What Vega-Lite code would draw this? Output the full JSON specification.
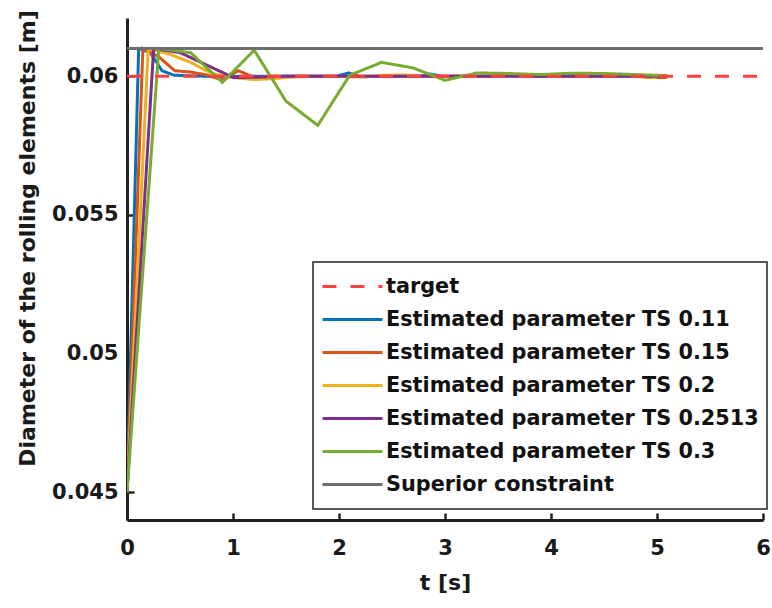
{
  "$schema": "https://vega.github.io/schema/vega-lite/v6.json",
  "width": 636,
  "height": 502,
  "autosize": {"type": "none"},
  "padding": {"left": 127, "top": 18, "right": 9, "bottom": 88},
  "background": "white",
  "config": {
    "view": {"stroke": null},
    "axis": {
      "grid": false,
      "labelFlush": false,
      "domainColor": "#222222",
      "domainWidth": 3,
      "tickColor": "#222222",
      "tickWidth": 2.5,
      "tickSize": -7,
      "labelFont": "DejaVu Sans",
      "labelFontWeight": "bold",
      "labelFontSize": 21,
      "labelColor": "#1a1a1a",
      "titleFont": "DejaVu Sans",
      "titleFontWeight": "bold",
      "titleFontSize": 22,
      "titleColor": "#1a1a1a"
    },
    "legend": {
      "orient": "none",
      "legendX": 186,
      "legendY": 244,
      "fillColor": "white",
      "strokeColor": "#222222",
      "strokeWidth": 1.5,
      "padding": 8,
      "symbolType": "stroke",
      "symbolSize": 3600,
      "symbolStrokeWidth": 3,
      "labelFont": "DejaVu Sans",
      "labelFontWeight": "bold",
      "labelFontSize": 20.8,
      "labelColor": "#111111",
      "labelLimit": 0,
      "labelOffset": 2,
      "clipHeight": 33,
      "rowPadding": 0
    }
  },
  "datasets": {
    "series": [
      {"s": "Estimated parameter TS 0.11", "t": 0, "d": 0.045},
      {"s": "Estimated parameter TS 0.11", "t": 0.11, "d": 0.0610},
      {"s": "Estimated parameter TS 0.11", "t": 0.22, "d": 0.06085},
      {"s": "Estimated parameter TS 0.11", "t": 0.33, "d": 0.0602},
      {"s": "Estimated parameter TS 0.11", "t": 0.44, "d": 0.06004},
      {"s": "Estimated parameter TS 0.11", "t": 0.55, "d": 0.06002},
      {"s": "Estimated parameter TS 0.11", "t": 0.66, "d": 0.06001},
      {"s": "Estimated parameter TS 0.11", "t": 0.88, "d": 0.05998},
      {"s": "Estimated parameter TS 0.11", "t": 1.1, "d": 0.06},
      {"s": "Estimated parameter TS 0.11", "t": 1.54, "d": 0.06},
      {"s": "Estimated parameter TS 0.11", "t": 1.98, "d": 0.06},
      {"s": "Estimated parameter TS 0.11", "t": 2.09, "d": 0.06012},
      {"s": "Estimated parameter TS 0.11", "t": 2.2, "d": 0.05998},
      {"s": "Estimated parameter TS 0.11", "t": 2.42, "d": 0.06},
      {"s": "Estimated parameter TS 0.11", "t": 2.75, "d": 0.06},
      {"s": "Estimated parameter TS 0.11", "t": 2.86, "d": 0.06008},
      {"s": "Estimated parameter TS 0.11", "t": 2.97, "d": 0.06},
      {"s": "Estimated parameter TS 0.11", "t": 3.52, "d": 0.06},
      {"s": "Estimated parameter TS 0.11", "t": 3.63, "d": 0.06008},
      {"s": "Estimated parameter TS 0.11", "t": 3.74, "d": 0.06},
      {"s": "Estimated parameter TS 0.11", "t": 4.07, "d": 0.06},
      {"s": "Estimated parameter TS 0.11", "t": 4.18, "d": 0.06005},
      {"s": "Estimated parameter TS 0.11", "t": 4.29, "d": 0.06},
      {"s": "Estimated parameter TS 0.11", "t": 5.06, "d": 0.06},

      {"s": "Estimated parameter TS 0.15", "t": 0, "d": 0.045},
      {"s": "Estimated parameter TS 0.15", "t": 0.15, "d": 0.0610},
      {"s": "Estimated parameter TS 0.15", "t": 0.30, "d": 0.0607},
      {"s": "Estimated parameter TS 0.15", "t": 0.45, "d": 0.0602},
      {"s": "Estimated parameter TS 0.15", "t": 0.60, "d": 0.06015},
      {"s": "Estimated parameter TS 0.15", "t": 0.75, "d": 0.06005},
      {"s": "Estimated parameter TS 0.15", "t": 0.90, "d": 0.05986},
      {"s": "Estimated parameter TS 0.15", "t": 1.05, "d": 0.0602},
      {"s": "Estimated parameter TS 0.15", "t": 1.20, "d": 0.05996},
      {"s": "Estimated parameter TS 0.15", "t": 1.35, "d": 0.06},
      {"s": "Estimated parameter TS 0.15", "t": 2.4, "d": 0.06},
      {"s": "Estimated parameter TS 0.15", "t": 3.6, "d": 0.06},
      {"s": "Estimated parameter TS 0.15", "t": 4.8, "d": 0.06},
      {"s": "Estimated parameter TS 0.15", "t": 4.95, "d": 0.05995},
      {"s": "Estimated parameter TS 0.15", "t": 5.1, "d": 0.05996},

      {"s": "Estimated parameter TS 0.2", "t": 0, "d": 0.045},
      {"s": "Estimated parameter TS 0.2", "t": 0.2, "d": 0.0610},
      {"s": "Estimated parameter TS 0.2", "t": 0.4, "d": 0.0608},
      {"s": "Estimated parameter TS 0.2", "t": 0.6, "d": 0.0605},
      {"s": "Estimated parameter TS 0.2", "t": 0.8, "d": 0.0601},
      {"s": "Estimated parameter TS 0.2", "t": 1.0, "d": 0.05995},
      {"s": "Estimated parameter TS 0.2", "t": 1.2, "d": 0.05988},
      {"s": "Estimated parameter TS 0.2", "t": 1.4, "d": 0.05992},
      {"s": "Estimated parameter TS 0.2", "t": 1.6, "d": 0.05998},
      {"s": "Estimated parameter TS 0.2", "t": 1.8, "d": 0.06},
      {"s": "Estimated parameter TS 0.2", "t": 2.2, "d": 0.05998},
      {"s": "Estimated parameter TS 0.2", "t": 2.4, "d": 0.06003},
      {"s": "Estimated parameter TS 0.2", "t": 2.6, "d": 0.06005},
      {"s": "Estimated parameter TS 0.2", "t": 2.8, "d": 0.06},
      {"s": "Estimated parameter TS 0.2", "t": 4.0, "d": 0.06},
      {"s": "Estimated parameter TS 0.2", "t": 4.8, "d": 0.06},
      {"s": "Estimated parameter TS 0.2", "t": 5.0, "d": 0.05995},

      {"s": "Estimated parameter TS 0.2513", "t": 0, "d": 0.045},
      {"s": "Estimated parameter TS 0.2513", "t": 0.2513, "d": 0.0610},
      {"s": "Estimated parameter TS 0.2513", "t": 0.5026, "d": 0.06085},
      {"s": "Estimated parameter TS 0.2513", "t": 0.7539, "d": 0.0604},
      {"s": "Estimated parameter TS 0.2513", "t": 1.0052, "d": 0.05995},
      {"s": "Estimated parameter TS 0.2513", "t": 1.2565, "d": 0.05997},
      {"s": "Estimated parameter TS 0.2513", "t": 1.5078, "d": 0.06},
      {"s": "Estimated parameter TS 0.2513", "t": 3.0156, "d": 0.06},
      {"s": "Estimated parameter TS 0.2513", "t": 4.0208, "d": 0.06},
      {"s": "Estimated parameter TS 0.2513", "t": 5.026, "d": 0.06},

      {"s": "Estimated parameter TS 0.3", "t": 0, "d": 0.045},
      {"s": "Estimated parameter TS 0.3", "t": 0.3, "d": 0.0610},
      {"s": "Estimated parameter TS 0.3", "t": 0.6, "d": 0.06085},
      {"s": "Estimated parameter TS 0.3", "t": 0.9, "d": 0.05978},
      {"s": "Estimated parameter TS 0.3", "t": 1.2, "d": 0.06094},
      {"s": "Estimated parameter TS 0.3", "t": 1.5, "d": 0.0591},
      {"s": "Estimated parameter TS 0.3", "t": 1.8, "d": 0.05823},
      {"s": "Estimated parameter TS 0.3", "t": 2.1, "d": 0.06003},
      {"s": "Estimated parameter TS 0.3", "t": 2.4, "d": 0.0605},
      {"s": "Estimated parameter TS 0.3", "t": 2.7, "d": 0.0603},
      {"s": "Estimated parameter TS 0.3", "t": 3.0, "d": 0.05985},
      {"s": "Estimated parameter TS 0.3", "t": 3.3, "d": 0.06012},
      {"s": "Estimated parameter TS 0.3", "t": 3.6, "d": 0.0601},
      {"s": "Estimated parameter TS 0.3", "t": 3.9, "d": 0.06006},
      {"s": "Estimated parameter TS 0.3", "t": 4.2, "d": 0.06011},
      {"s": "Estimated parameter TS 0.3", "t": 4.5, "d": 0.0601},
      {"s": "Estimated parameter TS 0.3", "t": 4.8, "d": 0.06006},
      {"s": "Estimated parameter TS 0.3", "t": 5.1, "d": 0.06002},

      {"s": "Superior constraint", "t": 0, "d": 0.061},
      {"s": "Superior constraint", "t": 6, "d": 0.061}
    ],
    "target": [
      {"s": "target", "t": 0, "d": 0.06},
      {"s": "target", "t": 6, "d": 0.06}
    ]
  },
  "encoding": {
    "x": {
      "field": "t", "type": "quantitative",
      "scale": {"domain": [0, 6], "nice": false, "zero": false},
      "axis": {"values": [0, 1, 2, 3, 4, 5, 6], "title": "t [s]", "labelPadding": 24, "titlePadding": 14, "format": "d"}
    },
    "y": {
      "field": "d", "type": "quantitative",
      "scale": {"domain": [0.044, 0.0621], "nice": false, "zero": false},
      "axis": {
        "values": [0.045, 0.05, 0.055, 0.06],
        "format": "~g",
        "labelPadding": 16,
        "title": "Diameter of the rolling elements [m]",
        "titleX": -100,
        "titleY": 220,
        "titleAngle": -90,
        "titleAlign": "center",
        "titleBaseline": "middle"
      }
    },
    "color": {
      "field": "s", "type": "nominal",
      "scale": {
        "domain": ["target", "Estimated parameter TS 0.11", "Estimated parameter TS 0.15", "Estimated parameter TS 0.2", "Estimated parameter TS 0.2513", "Estimated parameter TS 0.3", "Superior constraint"],
        "range": ["#ff4040", "#0072BD", "#D95319", "#EDB120", "#7E2F8E", "#77AC30", "#6e6e6e"]
      },
      "legend": {"title": null}
    },
    "strokeDash": {
      "field": "s", "type": "nominal",
      "scale": {
        "domain": ["target", "Estimated parameter TS 0.11", "Estimated parameter TS 0.15", "Estimated parameter TS 0.2", "Estimated parameter TS 0.2513", "Estimated parameter TS 0.3", "Superior constraint"],
        "range": [[14, 14], [1, 0], [1, 0], [1, 0], [1, 0], [1, 0], [1, 0]]
      },
      "legend": {"title": null}
    }
  },
  "layer": [
    {
      "data": {"name": "series"},
      "mark": {"type": "line", "strokeWidth": 3, "clip": true}
    },
    {
      "data": {"name": "target"},
      "mark": {"type": "line", "strokeWidth": 3, "clip": true}
    }
  ]
}
